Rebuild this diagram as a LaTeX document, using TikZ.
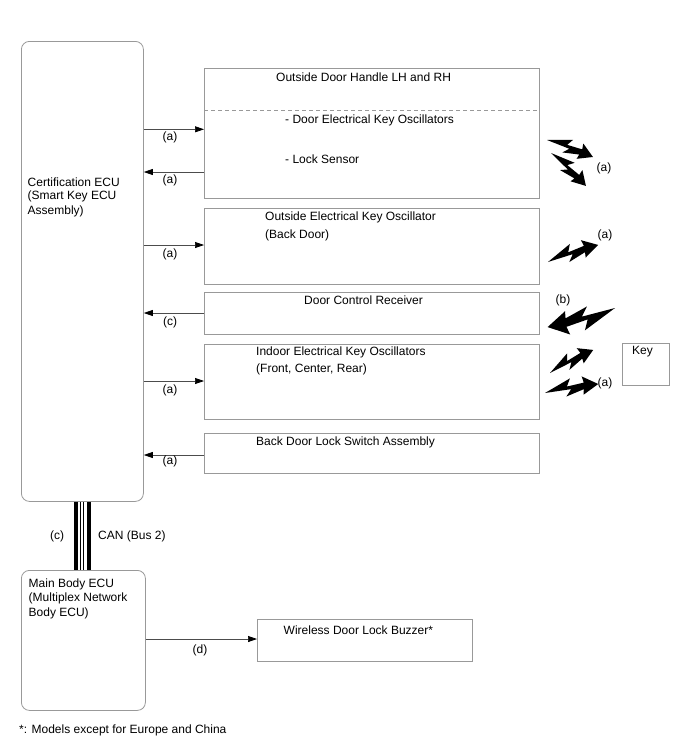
\documentclass[tikz,border=0pt]{standalone}
\usepackage{fontspec}
\setmainfont{Liberation Sans}
\usetikzlibrary{arrows.meta}
\begin{document}
\begin{tikzpicture}[x=1pt,y=-1pt, font=\fontsize{12}{14.5}\selectfont,
  box/.style={draw=gray!80, line width=0.8pt, inner sep=0pt, anchor=north west},
  rbox/.style={box, rounded corners=8pt},
  lbl/.style={inner sep=0pt, anchor=west, text=black},
  lblc/.style={inner sep=0pt, anchor=center, text=black},
  arr/.style={draw=gray!60!black, line width=0.7pt, -{Triangle[length=9pt,width=6pt,color=black]}},
  bolt/.pic={\fill[black,yscale=-1] (0,0) -- (0.50,0.19) -- (0.42,0.05) -- (0.74,0.07) -- (0.72,0.19) -- (1,0) -- (0.70,-0.15) -- (0.72,-0.05) -- (0.38,-0.13) -- (0.49,-0.01) -- cycle;}
]
\useasboundingbox[fill=white] (0,0) rectangle (688,755);

% boxes
\node[rbox, minimum width=122pt, minimum height=460pt] (cert) at (21,41) {};
\node[rbox, minimum width=124pt, minimum height=140pt] (mainbody) at (21,570) {};
\node[box, minimum width=335pt, minimum height=130pt] (handle) at (204,68) {};
\node[box, minimum width=335pt, minimum height=76pt] (backosc) at (204,208) {};
\node[box, minimum width=335pt, minimum height=42pt] (receiver) at (204,292) {};
\node[box, minimum width=335pt, minimum height=75pt] (indoor) at (204,344) {};
\node[box, minimum width=335pt, minimum height=40pt] (lockswitch) at (204,433) {};
\node[box, minimum width=47pt, minimum height=42pt] (key) at (622,343) {};
\node[box, minimum width=215pt, minimum height=42pt] (buzzer) at (257,619) {};

\draw[gray!80, line width=0.8pt, dash pattern=on 4pt off 3pt] (handle.west |- 0,110.5) -- (handle.east |- 0,110.5);

% texts
\node[lbl] (tc1) at (27.5,182) {Certification ECU};
\node[lbl] (tc2) at (27.5,196.5) {(Smart Key ECU};
\node[lbl] (tc3) at (27.5,211) {Assembly)};
\node[lbl] (tm1) at (28.5,584) {Main Body ECU};
\node[lbl] (tm2) at (28.5,598.5) {(Multiplex Network};
\node[lbl] (tm3) at (28.5,613) {Body ECU)};
\node[lbl] (th1) at (276,77) {Outside Door Handle LH and RH};
\node[lbl] (th2) at (285,120) {- Door Electrical Key Oscillators};
\node[lbl] (th3) at (285,159) {- Lock Sensor};
\node[lbl] (tb1) at (265,217) {Outside Electrical Key Oscillator};
\node[lbl] (tb2) at (265,235) {(Back Door)};
\node[lbl] (tr1) at (304,300.5) {Door Control Receiver};
\node[lbl] (ti1) at (256,352) {Indoor Electrical Key Oscillators};
\node[lbl] (ti2) at (256,369) {(Front, Center, Rear)};
\node[lbl] (tl1) at (256,442) {Back Door Lock Switch Assembly};
\node[lbl] (tk1) at (632,352) {Key};
\node[lbl] (tw1) at (283.5,630) {Wireless Door Lock Buzzer*};
\node[lbl] (foot) at (19,730) {*: Models except for Europe and China};

% connectors
\draw[arr] (cert.east |- 0,129.3) -- (handle.west |- 0,129.3);
\node[lblc] (la1) at (170,137.5) {(a)};
\draw[arr] (handle.west |- 0,172) -- (cert.east |- 0,172);
\node[lblc] (la2) at (170,180.5) {(a)};
\draw[arr] (cert.east |- 0,245) -- (backosc.west |- 0,245);
\node[lblc] (la3) at (170,254) {(a)};
\draw[arr] (receiver.west |- 0,313) -- (cert.east |- 0,313);
\node[lblc] (la4) at (170,322) {(c)};
\draw[arr] (cert.east |- 0,381) -- (indoor.west |- 0,381);
\node[lblc] (la5) at (170,390) {(a)};
\draw[arr] (lockswitch.west |- 0,455) -- (cert.east |- 0,455);
\node[lblc] (la6) at (170,461.5) {(a)};
\draw[arr] (mainbody.east |- 0,639) -- (buzzer.west |- 0,639);
\node[lblc] (la7) at (200,650.5) {(d)};

% CAN bus
\draw[line width=4pt] (76.3,0 |- cert.south) -- (76.3,0 |- mainbody.north);
\draw[line width=4pt] (88.8,0 |- cert.south) -- (88.8,0 |- mainbody.north);
\draw[line width=1.1pt] (80.9,0 |- cert.south) -- (80.9,0 |- mainbody.north);
\draw[line width=1.1pt] (83.8,0 |- cert.south) -- (83.8,0 |- mainbody.north);
\node[lblc] (lc) at (57,536) {(c)};
\node[lbl] (lcan) at (98,536) {CAN (Bus 2)};

% wireless bolts
\pic[shift={(547,140)}, rotate=-20.3, scale=49] {bolt};
\pic[shift={(551,153)}, rotate=-43.3, scale=48] {bolt};
\node[lblc] (lw1) at (604,168) {(a)};
\pic[shift={(548,262)}, rotate=18.8, scale=53] {bolt};
\node[lblc] (lw2) at (605,235) {(a)};
\pic[shift={(615,308)}, rotate=195.8, scale=70] {bolt};
\node[lblc] (lw3) at (563,300) {(b)};
\pic[shift={(550,373)}, rotate=28.1, scale=49] {bolt};
\pic[shift={(545,393)}, rotate=9.6, scale=54] {bolt};
\node[lblc] (lw4) at (605,383) {(a)};
\end{tikzpicture}
\end{document}
